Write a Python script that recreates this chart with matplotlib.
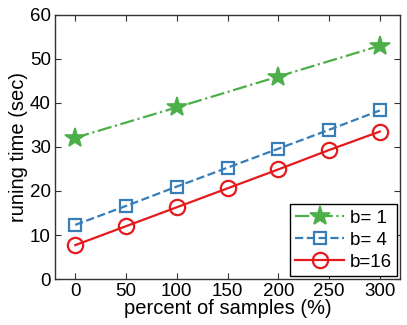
import matplotlib
matplotlib.use("Agg")
import matplotlib.pyplot as plt

plt.rcParams['font.family'] = ['Liberation Sans', 'DejaVu Sans']

# data
x_b1 = [0, 100, 200, 300]
y_b1 = [32.1, 39.0, 46.0, 53.0]
x_all = [0, 50, 100, 150, 200, 250, 300]
y_b4 = [12.3, 16.6, 21.0, 25.3, 29.6, 33.9, 38.3]
y_b16 = [7.7, 12.0, 16.3, 20.6, 24.9, 29.3, 33.5]
labels = ["b= 1", "b= 4", "b=16"]

fig = plt.figure(figsize=(4.07, 3.25), dpi=100)
ax = fig.add_axes([0.135, 0.1415, 0.848, 0.8125])

ax.plot(x_b1, y_b1, '-.', color='#4daf4a', marker='*', markersize=15,
        markerfacecolor='#4daf4a', markeredgewidth=1.2, lw=1.6, label=labels[0])
ax.plot(x_all, y_b4, '--', color='#377eb8', marker='s', markersize=9,
        markerfacecolor='none', markeredgewidth=1.6, lw=1.6, label=labels[1])
ax.plot(x_all, y_b16, '-', color='#e41a1c', marker='o', markersize=11,
        markerfacecolor='none', markeredgewidth=1.6, lw=1.6, label=labels[2])

ax.set_xlim(-20, 320)
ax.set_ylim(0, 60)
ax.set_xticks(x_all)
ax.set_yticks(range(0, 61, 10))
ax.tick_params(direction='in', top=True, right=True, length=4, width=0.8,
               labelsize=13.5, color='#333333', pad=3)
for s in ax.spines.values():
    s.set_linewidth(1.0)
    s.set_color('#333333')

ax.set_xlabel("percent of samples (%)", fontsize=14.5, labelpad=-1)
ax.set_ylabel("runing time (sec)", fontsize=14.5, labelpad=1)

leg = ax.legend(loc='lower right', fontsize=13.5, fancybox=False, framealpha=1,
                edgecolor='black', borderaxespad=0.15, handlelength=2.6,
                handletextpad=0.3, labelspacing=0.25, borderpad=0.3)
leg.get_frame().set_linewidth(1.0)

fig.savefig("out.png", dpi=100)
